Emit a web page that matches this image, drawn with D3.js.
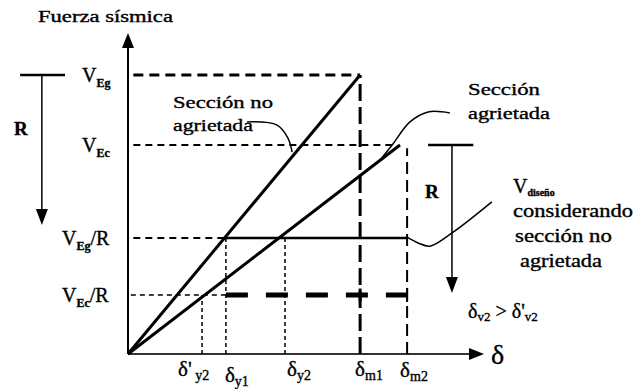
<!DOCTYPE html>
<html>
<head>
<meta charset="utf-8">
<script src="https://cdn.jsdelivr.net/npm/d3@7"></script>
<style>
  body { margin: 0; background: #fff; }
</style>
</head>
<body>
<div id="chart"></div>
<script>
// Force levels (arbitrary units)
var levelNames  = ["VEg", "VEc", "VEg/R", "VEc/R"];
var levelValues = [86.9, 65.1, 36.1, 18.4];

// Displacement ticks
var tickNames  = ["δ'y2", "δy1", "δy2", "δm1", "δm2"];
var tickValues = [20.8, 27.5, 44.1, 65.2, 78.4];

// Load-displacement lines
var uncracked = [[0, 0], [65.2, 86.9]];
var cracked   = [[0, 0], [76.4, 65.1]];
var designLine = [[27.5, 36.1], [78.4, 36.1]];
var reducedLine = [[27.5, 18.4], [78.4, 18.4]];

// Leader curves of the annotations
var leaderUncracked = [[33.4, 72.3], [41.9, 71.3], [44.9, 67.3], [46.1, 62.9]];
var leaderCracked   = [[90.4, 75.1], [84.3, 75.4], [79.2, 72.3], [74.2, 65.1], [71.3, 61.1]];
var leaderDesign    = [[78.4, 36.4], [81.5, 34.6], [84.8, 33.6], [91.0, 37.7], [102.2, 47.4]];

var w = 637, h = 389;
var serif = 'Liberation Serif';

var x = d3.scaleLinear().domain([0, 100]).range([128, 484]);
var y = d3.scaleLinear().domain([0, 100]).range([354, 33]);

var svg = d3.select('#chart').append('svg')
	.attr('width', w)
	.attr('height', h);

svg.append('rect').attr('width', w).attr('height', h).attr('fill', '#fff');

var line = d3.line().x(function(d) { return x(d[0]); }).y(function(d) { return y(d[1]); });
var curve = d3.line().x(function(d) { return x(d[0]); }).y(function(d) { return y(d[1]); })
	.curve(d3.curveCatmullRom);

function seg(x1, y1, x2, y2, width, dash) {
	var s = svg.append('line')
		.attr('x1', x(x1)).attr('y1', y(y1))
		.attr('x2', x(x2)).attr('y2', y(y2))
		.attr('stroke', '#000')
		.attr('stroke-width', width);
	if (dash) s.attr('stroke-dasharray', dash);
	return s;
}

function arrowDown(px, py) {
	svg.append('path')
		.attr('d', 'M' + (px - 6) + ',' + (py - 16) + 'L' + (px + 6) + ',' + (py - 16) + 'L' + px + ',' + py + 'Z')
		.attr('fill', '#000');
}

// label made of parts: [text, size, dy, weight]; optional width stretches it
function label(px, py, parts, width) {
	var t = svg.append('text').attr('x', 0).attr('y', 0)
		.style('font-family', serif)
		.style('fill', '#000')
		.style('stroke', '#000')
		.style('stroke-width', '0.35px');
	parts.forEach(function(p) {
		t.append('tspan')
			.style('font-family', serif)
			.style('font-size', p[1] + 'px')
			.style('font-weight', p[3] || 'normal')
			.attr('dy', p[2] || 0)
			.text(p[0]);
	});
	var sx = 1;
	if (width) sx = width / t.node().getComputedTextLength();
	t.attr('transform', 'translate(' + px + ',' + py + ') scale(' + sx + ',1)');
	return t;
}

// Axes
seg(0, 0, 0, 96, 2);
svg.append('path')
	.attr('d', 'M' + (x(0) - 6) + ',' + (y(100) + 15) + 'L' + (x(0) + 6) + ',' + (y(100) + 15) + 'L' + x(0) + ',' + y(100) + 'Z')
	.attr('fill', '#000');
seg(0, 0, 97, 0, 2).attr('stroke', '#333');
svg.append('path')
	.attr('d', 'M' + (x(100) - 15) + ',' + (y(0) - 6) + 'L' + (x(100) - 15) + ',' + (y(0) + 6) + 'L' + x(100) + ',' + y(0) + 'Z')
	.attr('fill', '#000');

// Horizontal reference levels
seg(1.5, levelValues[0], tickValues[3], levelValues[0], 3, '10,6');
seg(1.5, levelValues[1], cracked[1][0] - 1, levelValues[1], 2, '7,5');
seg(1.5, levelValues[2], tickValues[1], levelValues[2], 2, '7,5');
seg(0.8, levelValues[3], tickValues[1], levelValues[3], 1.5, '5,4');
svg.append('path').attr('d', line(reducedLine))
	.attr('stroke', '#000').attr('stroke-width', 5).attr('fill', 'none')
	.attr('stroke-dasharray', '22,18');
svg.append('path').attr('d', line(designLine))
	.attr('stroke', '#000').attr('stroke-width', 2.5).attr('fill', 'none');

// Vertical projections
seg(tickValues[0], 0, tickValues[0], levelValues[3], 1.5, '4,3');
seg(tickValues[1], 0, tickValues[1], levelValues[2], 1.5, '4,3');
seg(tickValues[2], 0, tickValues[2], levelValues[2], 1.5, '4,3');
seg(tickValues[3], 0, tickValues[3], levelValues[0], 3, '17,6');
seg(tickValues[4], 0, tickValues[4], levelValues[1] - 1, 2, '12,6');
// end caps on the thick dashed line
seg(tickValues[3], levelValues[3] - 2, tickValues[3], levelValues[3] + 2, 3);
seg(tickValues[4], levelValues[3] - 2.2, tickValues[4], levelValues[3] + 2.2, 2);

// Stiffness lines
[uncracked, cracked].forEach(function(d) {
	svg.append('path').attr('d', line(d))
		.attr('stroke', '#000').attr('stroke-width', 3).attr('fill', 'none');
});

// Leaders
[leaderUncracked, leaderCracked, leaderDesign].forEach(function(d) {
	svg.append('path').attr('d', curve(d))
		.attr('stroke', '#000').attr('stroke-width', 1.5).attr('fill', 'none');
});

// R arrows (reduction factor)
seg(-30.3, levelValues[0], -17.7, levelValues[0], 2.5);
seg(-24.2, levelValues[0], -24.2, levelValues[2] + 9, 1.5);
arrowDown(x(-24.2), y(levelValues[2]) - 13);
seg(84.3, levelValues[1], 97, levelValues[1], 2.5);
seg(91.0, levelValues[1], 91.0, levelValues[3] + 5, 1.5);
arrowDown(x(91.0), y(levelValues[3]) - 2);
label(14, 135, [["R", 19, 0, 'bold']]);
label(425, 198, [["R", 19, 0, 'bold']]);

// Level labels on the force axis
var levelParts = [
	[["V", 20], ["Eg", 12, 5, 'bold']],
	[["V", 20], ["Ec", 12, 5, 'bold']],
	[["V", 20], ["Eg", 12, 5, 'bold'], ["/R", 20, -5]],
	[["V", 20], ["Ec", 12, 5, 'bold'], ["/R", 20, -5]]
];
var levelLabelX = [82, 82, 62, 62];
levelNames.forEach(function(n, i) {
	label(levelLabelX[i], y(levelValues[i]) + 7, levelParts[i]);
});

// Displacement tick labels
var tickParts = [
	[["δ'", 21], [" y2", 14, 4]],
	[["δ", 21], ["y1", 14, 4]],
	[["δ", 21], ["y2", 14, 4]],
	[["δ", 21], ["m1", 14, 4]],
	[["δ", 21], ["m2", 14, 4]]
];
var tickLabelDx = [-24, -1, 2, -5, -7];
var tickLabelY  = [376, 382, 376, 376, 377];
tickNames.forEach(function(n, i) {
	label(x(tickValues[i]) + tickLabelDx[i], tickLabelY[i], tickParts[i]);
});

// Axis titles
label(38, 22, [["Fuerza sísmica", 16]], 135);
label(491, 364, [["δ", 28]]);

// Annotations
label(173, 108, [["Sección no", 17]], 100);
label(173, 131, [["agrietada", 17]], 80);
label(468, 95, [["Sección", 17]], 72);
label(468, 119, [["agrietada", 17]], 82);

label(513, 193, [["V", 20], ["diseño", 10, 3, 'bold']]);
label(513, 217, [["considerando", 18]], 120);
label(515, 242, [["sección no", 18]], 97);
label(520, 267, [["agrietada", 18]], 82);
label(468, 318, [["δ", 20], ["v2", 13, 3], [" > δ'", 20, -3], ["v2", 13, 3]]);
</script>
</body>
</html>
